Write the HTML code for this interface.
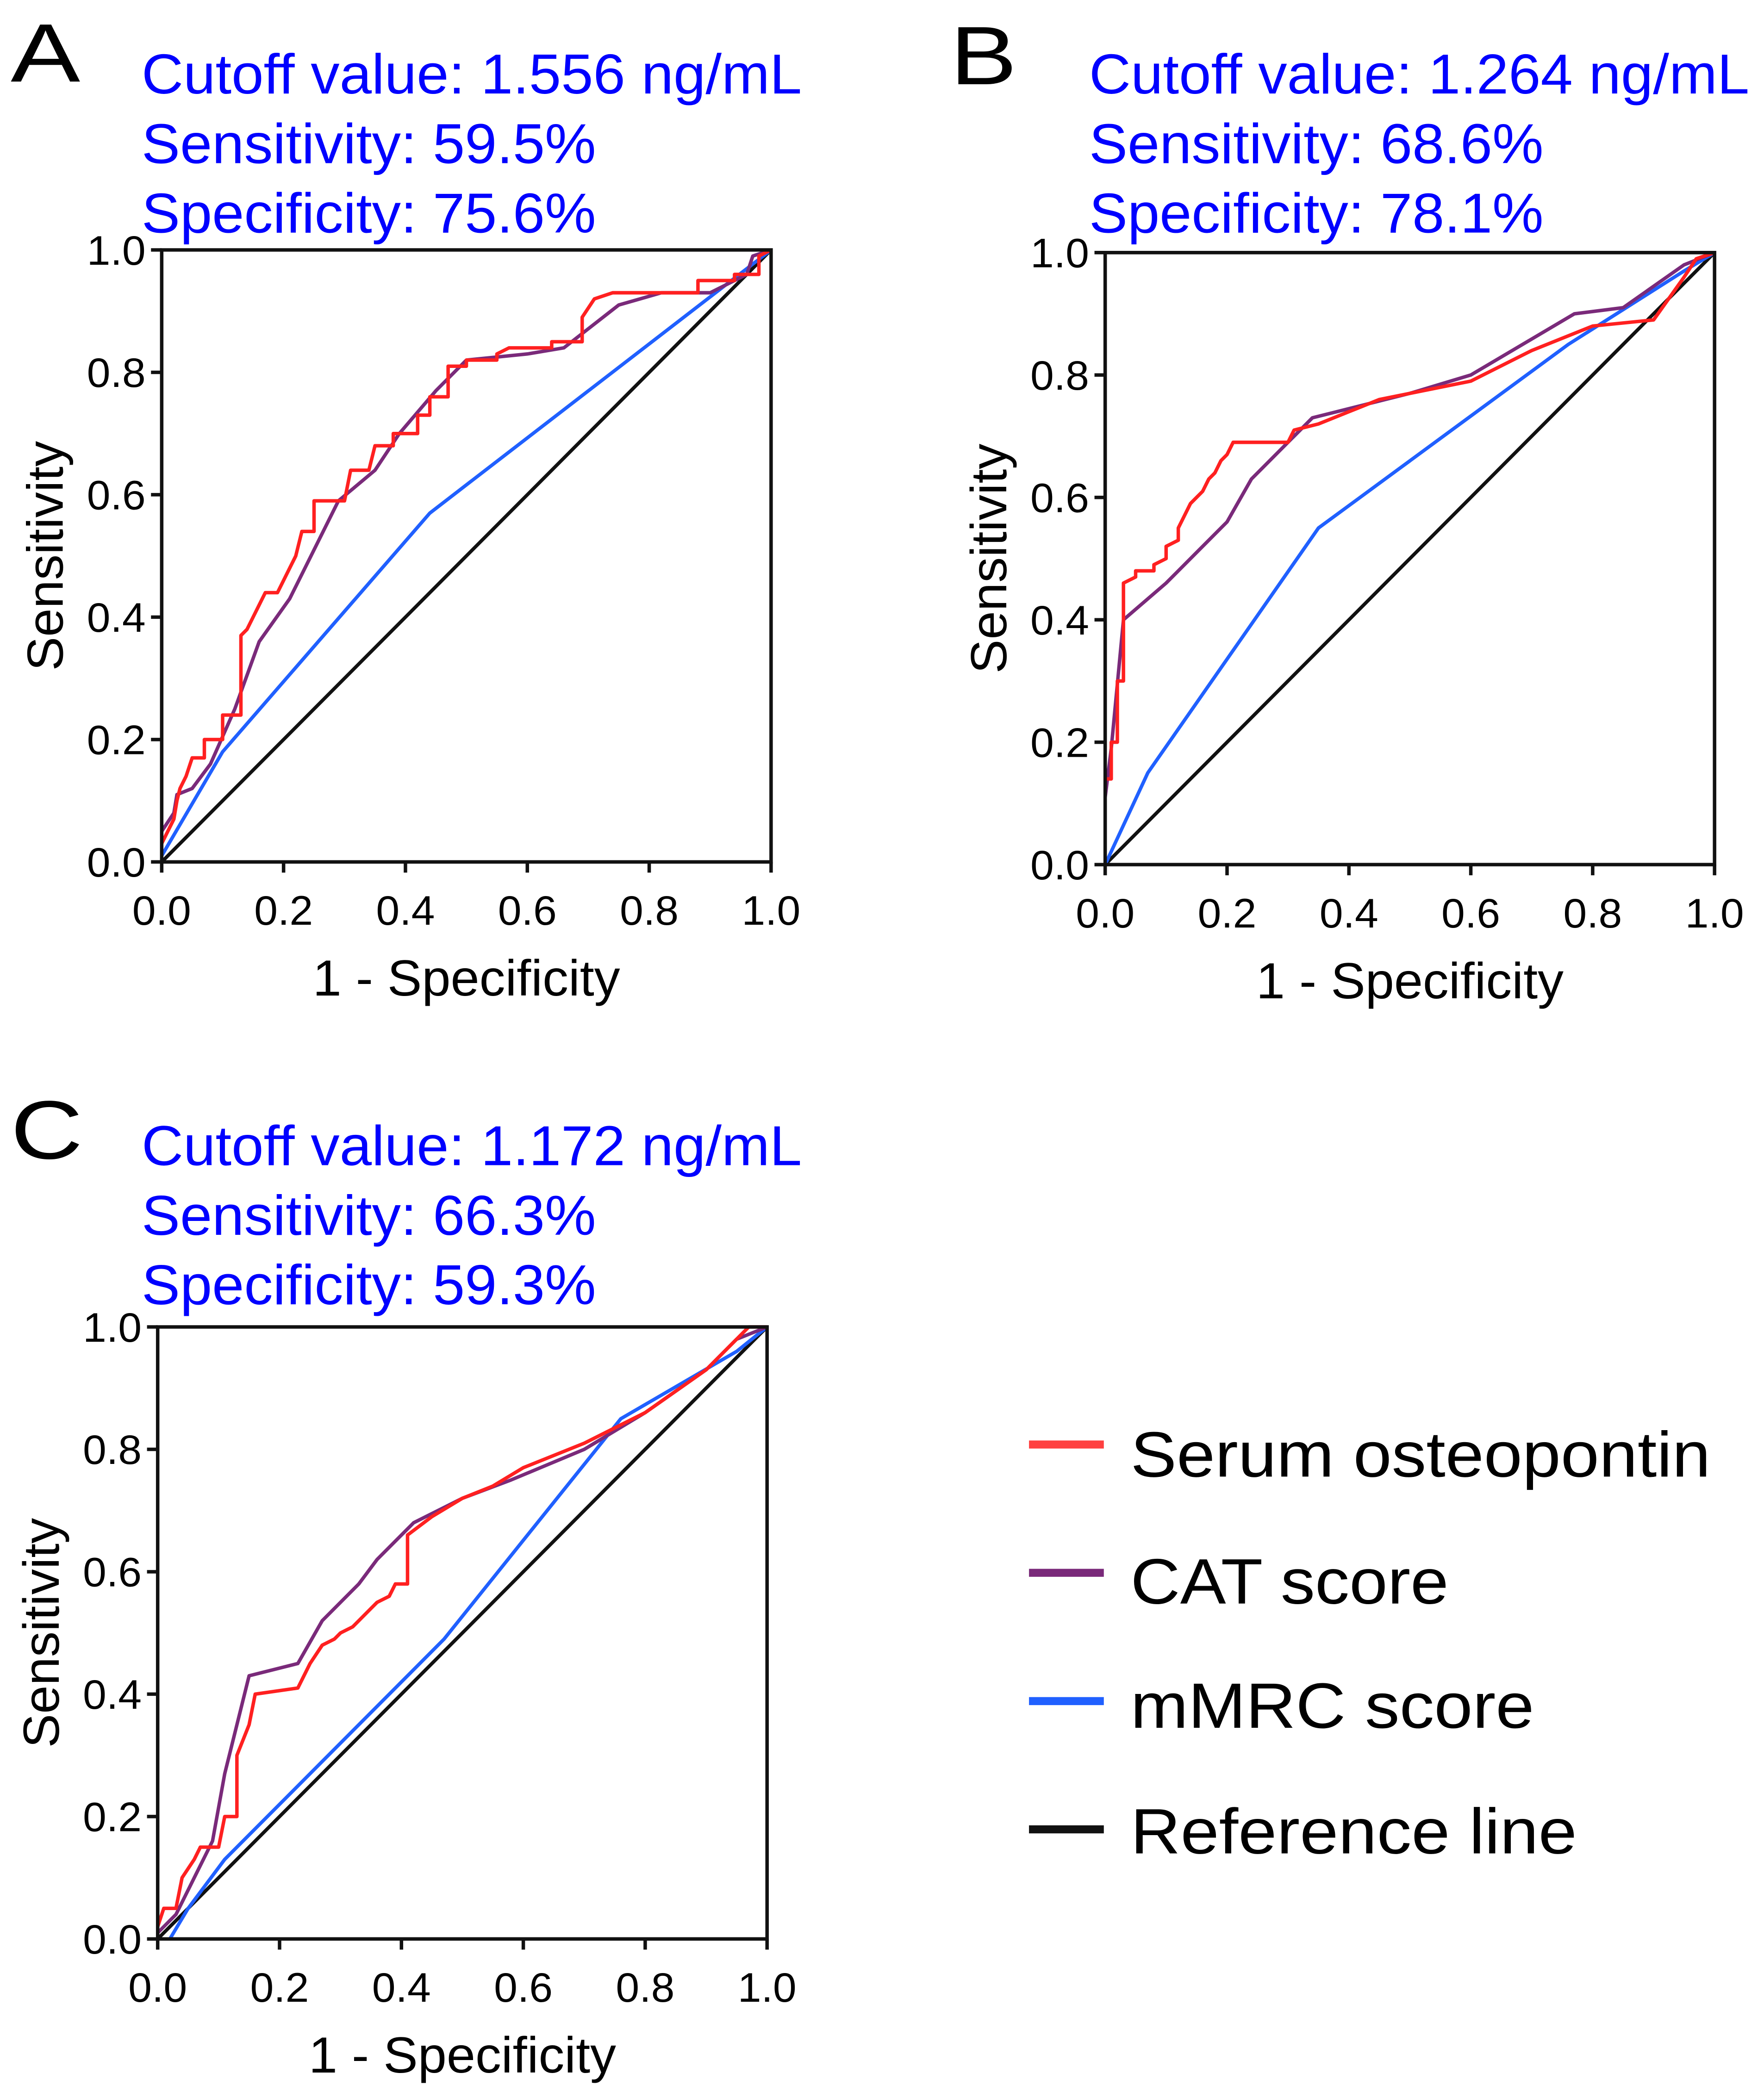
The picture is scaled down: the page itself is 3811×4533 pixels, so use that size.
<!DOCTYPE html>
<html><head><meta charset="utf-8"><style>
html,body{margin:0;padding:0;background:#fff;}
svg{display:block;font-family:"Liberation Sans",sans-serif;}
</style></head><body>
<svg id="fig" width="3811" height="4533" viewBox="0 0 1320 1570" xmlns="http://www.w3.org/2000/svg">
<rect width="1320" height="1570" fill="#fff"/>
<text x="8" y="61" font-size="62" textLength="52" lengthAdjust="spacingAndGlyphs">A</text>
<text x="711" y="63" font-size="62" textLength="50" lengthAdjust="spacingAndGlyphs">B</text>
<text x="8" y="867" font-size="62" textLength="54" lengthAdjust="spacingAndGlyphs">C</text>
<g fill="#0000ff" font-size="42" lengthAdjust="spacingAndGlyphs">
<text x="106" y="70" textLength="494" lengthAdjust="spacingAndGlyphs">Cutoff value: 1.556 ng/mL</text>
<text x="106" y="122" textLength="340" lengthAdjust="spacingAndGlyphs">Sensitivity: 59.5%</text>
<text x="106" y="174" textLength="340" lengthAdjust="spacingAndGlyphs">Specificity: 75.6%</text>
<text x="815" y="70" textLength="494" lengthAdjust="spacingAndGlyphs">Cutoff value: 1.264 ng/mL</text>
<text x="815" y="122" textLength="340" lengthAdjust="spacingAndGlyphs">Sensitivity: 68.6%</text>
<text x="815" y="174" textLength="340" lengthAdjust="spacingAndGlyphs">Specificity: 78.1%</text>
<text x="106" y="872" textLength="494" lengthAdjust="spacingAndGlyphs">Cutoff value: 1.172 ng/mL</text>
<text x="106" y="924" textLength="340" lengthAdjust="spacingAndGlyphs">Sensitivity: 66.3%</text>
<text x="106" y="976" textLength="340" lengthAdjust="spacingAndGlyphs">Specificity: 59.3%</text>
</g>
<g font-size="48">
<line x1="770" y1="1081" x2="826" y2="1081" stroke="#ff4040" stroke-width="6"/>
<text x="846" y="1105" textLength="434" lengthAdjust="spacingAndGlyphs">Serum osteopontin</text>
<line x1="770" y1="1177" x2="826" y2="1177" stroke="#7a2a7a" stroke-width="6"/>
<text x="846" y="1200" textLength="238" lengthAdjust="spacingAndGlyphs">CAT score</text>
<line x1="770" y1="1273" x2="826" y2="1273" stroke="#2060ff" stroke-width="6"/>
<text x="846" y="1293" textLength="302" lengthAdjust="spacingAndGlyphs">mMRC score</text>
<line x1="770" y1="1369" x2="826" y2="1369" stroke="#111" stroke-width="6"/>
<text x="846" y="1387" textLength="334" lengthAdjust="spacingAndGlyphs">Reference line</text>
</g>
</svg>
<script>
const ticks = [0, 0.2, 0.4, 0.6, 0.8, 1.0];
const tickLabels = ["0.0","0.2","0.4","0.6","0.8","1.0"];
const redA = [[0,0.03],[0.01,0.05],[0.02,0.07],[0.025,0.1],[0.03,0.12],[0.04,0.14],[0.05,0.17],[0.07,0.17],[0.07,0.2],[0.1,0.2],[0.1,0.24],[0.13,0.24],[0.13,0.37],[0.14,0.38],[0.15,0.4],[0.16,0.42],[0.17,0.44],[0.19,0.44],[0.2,0.46],[0.21,0.48],[0.22,0.5],[0.23,0.54],[0.25,0.54],[0.25,0.59],[0.3,0.59],[0.31,0.64],[0.34,0.64],[0.35,0.68],[0.38,0.68],[0.38,0.7],[0.42,0.7],[0.42,0.73],[0.44,0.73],[0.44,0.76],[0.47,0.76],[0.47,0.81],[0.5,0.81],[0.5,0.82],[0.55,0.82],[0.55,0.83],[0.57,0.84],[0.64,0.84],[0.64,0.85],[0.69,0.85],[0.69,0.89],[0.71,0.92],[0.74,0.93],[0.88,0.93],[0.88,0.95],[0.94,0.95],[0.94,0.96],[0.98,0.96],[0.98,0.99],[1,1]];
const purpleA = [[0,0.05],[0.02,0.08],[0.025,0.11],[0.05,0.12],[0.08,0.16],[0.12,0.25],[0.16,0.36],[0.21,0.43],[0.25,0.51],[0.29,0.59],[0.35,0.64],[0.39,0.7],[0.45,0.77],[0.5,0.82],[0.6,0.83],[0.66,0.84],[0.75,0.91],[0.82,0.93],[0.9,0.93],[0.96,0.96],[0.97,0.99],[1,1]];
const blueA = [[0,0.01],[0.1,0.18],[0.44,0.57],[1,1]];
const redB = [[0,0.14],[0.01,0.14],[0.01,0.2],[0.02,0.2],[0.02,0.3],[0.03,0.3],[0.03,0.46],[0.05,0.47],[0.05,0.48],[0.08,0.48],[0.08,0.49],[0.1,0.5],[0.1,0.52],[0.12,0.53],[0.12,0.55],[0.13,0.57],[0.14,0.59],[0.15,0.6],[0.16,0.61],[0.17,0.63],[0.18,0.64],[0.19,0.66],[0.2,0.67],[0.21,0.69],[0.3,0.69],[0.31,0.71],[0.35,0.72],[0.4,0.74],[0.45,0.76],[0.5,0.77],[0.6,0.79],[0.7,0.84],[0.8,0.88],[0.9,0.89],[0.95,0.96],[0.97,0.99],[1,1]];
const purpleB = [[0,0.11],[0.01,0.19],[0.03,0.4],[0.1,0.46],[0.15,0.51],[0.2,0.56],[0.24,0.63],[0.34,0.73],[0.5,0.77],[0.6,0.8],[0.77,0.9],[0.85,0.91],[0.95,0.98],[1,1]];
const blueB = [[0,0],[0.07,0.15],[0.35,0.55],[0.76,0.85],[0.95,0.97],[1,1]];
const redC = [[0,0.02],[0.01,0.05],[0.03,0.05],[0.04,0.1],[0.06,0.13],[0.07,0.15],[0.1,0.15],[0.11,0.2],[0.13,0.2],[0.13,0.3],[0.15,0.35],[0.16,0.4],[0.23,0.41],[0.25,0.45],[0.27,0.48],[0.29,0.49],[0.3,0.5],[0.32,0.51],[0.33,0.52],[0.35,0.54],[0.36,0.55],[0.38,0.56],[0.39,0.58],[0.41,0.58],[0.41,0.66],[0.45,0.69],[0.5,0.72],[0.55,0.74],[0.6,0.77],[0.7,0.81],[0.8,0.86],[0.9,0.93],[0.97,1],[1,1]];
const purpleC = [[0,0.01],[0.03,0.04],[0.06,0.1],[0.09,0.16],[0.11,0.27],[0.15,0.43],[0.23,0.45],[0.27,0.52],[0.33,0.58],[0.36,0.62],[0.42,0.68],[0.5,0.72],[0.58,0.75],[0.7,0.8],[0.8,0.86],[0.9,0.93],[0.95,0.98],[1,1]];
const blueC = [[0.02,0],[0.05,0.05],[0.11,0.13],[0.47,0.49],[0.76,0.85],[0.95,0.96],[1,1]];
const refLine = [[0,0],[1,1]];

const NS = "http://www.w3.org/2000/svg";
const svg = document.getElementById("fig");
function mk(tag, attrs){const e=document.createElementNS(NS,tag);for(const k in attrs)e.setAttribute(k,attrs[k]);return e;}

function panel(id, x0, y0, w, h, series){
  const g = mk("g",{});
  
  
  svg.appendChild(g);
  const sx = v => x0 + v*w;
  const sy = v => y0 + h - v*h;
  const colors = ["#111","#2060ff","#7a2a7a","#ff2020"];
  const names = ["reference-line","mmrc-curve","cat-curve","osteopontin-curve"];
  series.forEach((s,i)=>{
    const p = mk("polyline",{points:s.map(d=>sx(d[0])+","+sy(d[1])).join(" "),fill:"none",stroke:colors[i],"stroke-width":2.6,"stroke-linejoin":"round"});
    
    
    g.appendChild(p);
  });
  g.appendChild(mk("rect",{x:x0,y:y0,width:w,height:h,fill:"none",stroke:"#111","stroke-width":2.6}));
  ticks.forEach((t,i)=>{
    g.appendChild(mk("line",{x1:sx(t),y1:y0+h,x2:sx(t),y2:y0+h+8,stroke:"#111","stroke-width":2.6}));
    g.appendChild(mk("line",{x1:x0-8,y1:sy(t),x2:x0,y2:sy(t),stroke:"#111","stroke-width":2.6}));
    const xt = mk("text",{x:sx(t),y:y0+h+47,"font-size":31,"text-anchor":"middle",textLength:44,lengthAdjust:"spacingAndGlyphs"});
    xt.textContent = tickLabels[i];
    
    
    g.appendChild(xt);
    const yt = mk("text",{x:x0-12,y:sy(t)+11,"font-size":31,"text-anchor":"end",textLength:44,lengthAdjust:"spacingAndGlyphs"});
    yt.textContent = tickLabels[i];
    
    
    g.appendChild(yt);
  });
  const xl = mk("text",{x:x0+w/2,y:y0+h+100,"font-size":38,"text-anchor":"middle",textLength:230,lengthAdjust:"spacingAndGlyphs"});
  xl.textContent = "1 - Specificity";
  
  
  g.appendChild(xl);
  const yl = mk("text",{x:0,y:0,"font-size":38,"text-anchor":"middle",textLength:172,lengthAdjust:"spacingAndGlyphs",transform:`translate(${x0-74},${y0+h/2}) rotate(-90)`});
  yl.textContent = "Sensitivity";
  
  
  g.appendChild(yl);
}
panel("a",121,187,456,458,[refLine,blueA,purpleA,redA]);
panel("b",827,189,456,458,[refLine,blueB,purpleB,redB]);
panel("c",118,993,456,458,[refLine,blueC,purpleC,redC]);
</script>
</body></html>
